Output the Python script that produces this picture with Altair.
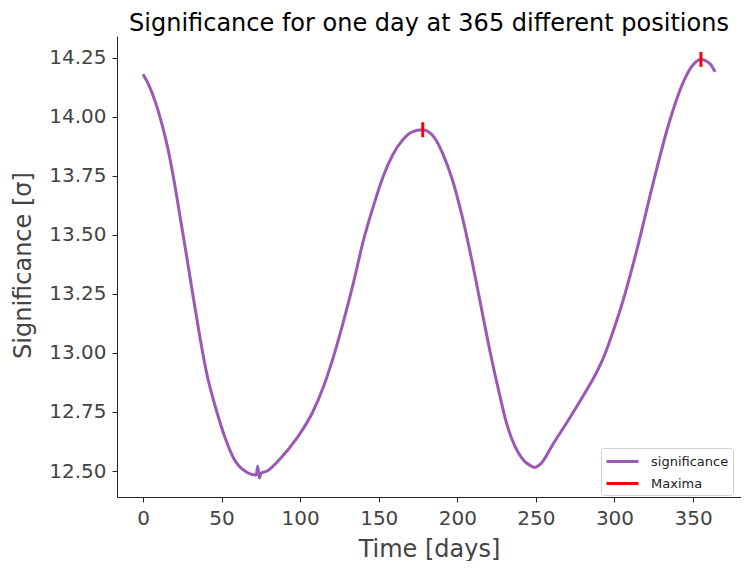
import altair as alt
import pandas as pd

days = [0, 4, 8, 12, 16, 20, 24, 28, 32, 35, 38, 41, 44, 47, 52, 58, 66, 72, 73, 74, 75,
        79, 87, 98, 108, 115, 121, 127, 134, 140, 147, 153, 159, 165, 171, 178, 185, 191,
        197, 203, 209, 215, 221, 227, 231, 235, 239, 243, 246, 249, 253, 261, 272, 282, 288,
        293, 298, 304, 314, 325, 335, 344, 350, 355, 361, 364]
significance = [14.18, 14.13, 14.06, 13.97, 13.86, 13.72, 13.56, 13.40, 13.235, 13.115,
                13.0, 12.9, 12.82, 12.75, 12.645, 12.55, 12.495, 12.483, 12.52, 12.47, 12.49,
                12.50, 12.55, 12.64, 12.75, 12.86, 12.98, 13.12, 13.30, 13.47, 13.63,
                13.75, 13.84, 13.90, 13.935, 13.945, 13.915, 13.84, 13.73, 13.58, 13.40,
                13.20, 13.0, 12.82, 12.71, 12.63, 12.575, 12.54, 12.525, 12.515, 12.53, 12.615,
                12.73, 12.84, 12.91, 12.98, 13.07, 13.19, 13.43, 13.73, 13.98, 14.15, 14.22,
                14.243, 14.223, 14.19]
max_days = [178, 355]
max_values = [13.945, 14.243]

x_ticks = [0, 50, 100, 150, 200, 250, 300, 350]
y_ticks = [12.5, 12.75, 13.0, 13.25, 13.5, 13.75, 14.0, 14.25]

line_df = pd.DataFrame({"day": days, "sig": significance, "series": "significance"})
max_df = pd.DataFrame({"day": max_days, "sig": max_values, "series": "Maxima"})

FONT = "DejaVu Sans"

color = alt.Color(
    "series:N",
    scale=alt.Scale(domain=["significance", "Maxima"], range=["#9b59b6", "#ff0000"]),
    legend=alt.Legend(
        title=None, orient="none", legendX=484, legendY=412,
        symbolType="M-1,0H3", symbolStrokeWidth=3, symbolSize=256,
        symbolOpacity=1, labelOffset=27,
        labelFontSize=13, labelFont=FONT, labelColor="#222",
        fillColor="white", strokeColor="#d0d0d0", cornerRadius=3,
        padding=4, rowPadding=5,
    ),
)

x = alt.X(
    "day:Q",
    scale=alt.Scale(domain=[-16.55, 380.5], nice=False, zero=False),
    axis=alt.Axis(values=x_ticks, title="Time [days]", titleX=312, titleY=59,
                  titleBaseline="alphabetic", titleAlign="center"),
)
y = alt.Y(
    "sig:Q",
    scale=alt.Scale(domain=[12.39, 14.342], nice=False, zero=False),
    axis=alt.Axis(values=y_ticks, format=".2f", title="Significance [σ]",
                  titleX=-94, titleY=229, titleAngle=270, titleAlign="center",
                  titleBaseline="middle"),
)

line = alt.Chart(line_df).mark_line(strokeWidth=3, interpolate="monotone", opacity=1).encode(
    x=x, y=y, color=color
)
maxima = alt.Chart(max_df).mark_tick(orient="vertical", size=15, thickness=3, opacity=1).encode(
    x=x, y=y, color=color
)

chart = (
    alt.layer(line, maxima)
    .properties(
        width=624, height=461,
        padding={"left": 109, "top": 28, "right": 0, "bottom": 64},
        autosize=alt.AutoSizeParams(type="none"),
        title=alt.Title("Significance for one day at 365 different positions",
                        fontSize=24, font=FONT, fontWeight="normal", anchor="middle",
                        color="#000", offset=0),
    )
    .configure_view(stroke=None)
    .configure_axis(
        grid=False, domainColor="#222", domainWidth=1, tickColor="#222", tickSize=5,
        labelFont=FONT, labelFontSize=20, labelColor="#444", labelPadding=6,
        titleFont=FONT, titleFontSize=24, titleColor="#444", titleFontWeight="normal",
    )
)

chart.save("out.html", embed_options={"renderer": "svg", "actions": False})
